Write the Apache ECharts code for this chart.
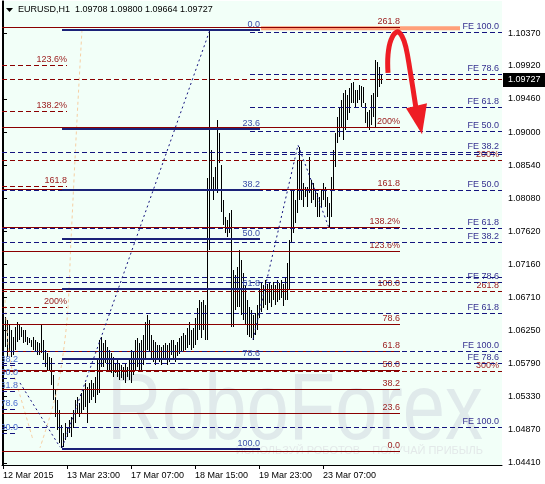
<!DOCTYPE html>
<html>
<head>
<meta charset="utf-8">
<script src="https://cdn.jsdelivr.net/npm/echarts@6/dist/echarts.min.js"></script>
<style>
  html, body { margin: 0; padding: 0; background: #fff; }
  #chart { width: 545px; height: 484px; }
</style>
</head>
<body>
<div id="chart"></div>
<script>
// EURUSD H1, one bar per hour, bar index on x
var timeLabels = ['12 Mar 2015', '13 Mar 23:00', '17 Mar 07:00', '18 Mar 15:00', '19 Mar 23:00', '23 Mar 07:00'];
var timeLabelBars = [0, 32, 64, 96, 128, 160];
var priceTicks = [1.10370, 1.09920, 1.09460, 1.09000, 1.08540, 1.08080, 1.07620,
  1.07160, 1.06710, 1.06250, 1.05790, 1.05330, 1.04870, 1.04410];
var lastBar = [1.09708, 1.09800, 1.09664, 1.09727]; // O H L C

var highs = [
  1.0644, 1.0644, 1.0639, 1.0632, 1.0626, 1.0616, 1.0630, 1.0637, 1.0634, 1.0630,
  1.0626, 1.0626, 1.0616, 1.0614, 1.0612, 1.0616, 1.0612, 1.0609, 1.0607, 1.0632,
  1.0612, 1.0598, 1.0594, 1.0588, 1.0587, 1.0563, 1.0542, 1.0528, 1.0514, 1.0494,
  1.0483, 1.0496, 1.0491, 1.0501, 1.0505, 1.0514, 1.0528, 1.0533, 1.0524, 1.0538,
  1.0542, 1.0552, 1.0546, 1.0552, 1.0556, 1.0552, 1.0560, 1.0584, 1.0612, 1.0616,
  1.0607, 1.0612, 1.0602, 1.0598, 1.0594, 1.0588, 1.0580, 1.0584, 1.0580, 1.0577,
  1.0574, 1.0580, 1.0574, 1.0584, 1.0598, 1.0595, 1.0612, 1.0614, 1.0607, 1.0612,
  1.0619, 1.0637, 1.0646, 1.0639, 1.0619, 1.0612, 1.0609, 1.0605, 1.0605, 1.0602,
  1.0605, 1.0607, 1.0605, 1.0607, 1.0612, 1.0612, 1.0605, 1.0609, 1.0614, 1.0617,
  1.0621, 1.0619, 1.0628, 1.0637, 1.0626, 1.0628, 1.0642, 1.0656, 1.0667, 1.0664,
  1.0667, 1.0660, 1.0836, 1.1042, 1.0875, 1.0838, 1.0852, 1.0917, 1.0899, 1.0855,
  1.0806, 1.0782, 1.0778, 1.0788, 1.0792, 1.0709, 1.0702, 1.0713, 1.0736, 1.0723,
  1.0705, 1.0688, 1.0667, 1.0657, 1.0653, 1.0646, 1.0649, 1.0660, 1.0681, 1.0692,
  1.0688, 1.0695, 1.0689, 1.0691, 1.0688, 1.0692, 1.0688, 1.0695, 1.0691, 1.0695,
  1.0689, 1.0698, 1.0718, 1.0750, 1.0820, 1.0820, 1.0806, 1.0861, 1.0879, 1.0861,
  1.0829, 1.0824, 1.0824, 1.0865, 1.0834, 1.0829, 1.0820, 1.0816, 1.0810, 1.0820,
  1.0829, 1.0824, 1.0810, 1.0802, 1.0838, 1.0875, 1.0899, 1.0921, 1.0935, 1.0945,
  1.0954, 1.0958, 1.0951, 1.0961, 1.0968, 1.0969, 1.0958, 1.0958, 1.0965, 1.0964,
  1.0962, 1.0940, 1.0928, 1.0931, 1.0951, 1.0954, 1.1000, 1.0997, 1.0990, 1.0980
];
var lows = [
  1.0595, 1.0602, 1.0588, 1.0595, 1.0588, 1.0591, 1.0598, 1.0609, 1.0612, 1.0616,
  1.0607, 1.0609, 1.0605, 1.0607, 1.0602, 1.0598, 1.0595, 1.0591, 1.0591, 1.0594,
  1.0584, 1.0574, 1.0570, 1.0570, 1.0549, 1.0528, 1.0505, 1.0487, 1.0469, 1.0462,
  1.0463, 1.0473, 1.0477, 1.0483, 1.0477, 1.0490, 1.0496, 1.0510, 1.0505, 1.0510,
  1.0514, 1.0519, 1.0496, 1.0524, 1.0528, 1.0533, 1.0524, 1.0535, 1.0538, 1.0574,
  1.0574, 1.0580, 1.0570, 1.0567, 1.0566, 1.0560, 1.0566, 1.0560, 1.0556, 1.0559,
  1.0556, 1.0552, 1.0560, 1.0556, 1.0552, 1.0563, 1.0570, 1.0574, 1.0570, 1.0567,
  1.0577, 1.0587, 1.0598, 1.0595, 1.0584, 1.0581, 1.0577, 1.0584, 1.0581, 1.0577,
  1.0584, 1.0587, 1.0577, 1.0581, 1.0591, 1.0587, 1.0581, 1.0589, 1.0592, 1.0595,
  1.0595, 1.0598, 1.0601, 1.0605, 1.0598, 1.0601, 1.0605, 1.0612, 1.0626, 1.0614,
  1.0626, 1.0612, 1.0612, 1.0736, 1.0820, 1.0806, 1.0820, 1.0816, 1.0857, 1.0789,
  1.0771, 1.0760, 1.0754, 1.0760, 1.0630, 1.0630, 1.0653, 1.0657, 1.0657, 1.0646,
  1.0639, 1.0632, 1.0619, 1.0616, 1.0614, 1.0612, 1.0619, 1.0626, 1.0642, 1.0650,
  1.0656, 1.0660, 1.0653, 1.0663, 1.0657, 1.0667, 1.0660, 1.0664, 1.0667, 1.0670,
  1.0659, 1.0667, 1.0667, 1.0681, 1.0746, 1.0760, 1.0774, 1.0788, 1.0806, 1.0806,
  1.0796, 1.0810, 1.0796, 1.0816, 1.0802, 1.0806, 1.0796, 1.0782, 1.0782, 1.0796,
  1.0806, 1.0796, 1.0782, 1.0767, 1.0782, 1.0820, 1.0852, 1.0885, 1.0893, 1.0907,
  1.0889, 1.0903, 1.0917, 1.0926, 1.0940, 1.0940, 1.0935, 1.0940, 1.0945, 1.0935,
  1.0940, 1.0913, 1.0906, 1.0903, 1.0910, 1.0921, 1.0907, 1.0949, 1.0962, 1.0966
];

// fibonacci tools: anchor prices (0% and 100%), levels and their captions
var retrAAnchors = [1.1042, 1.0461];
var retrALevels = [0, 23.6, 38.2, 50, 61.8, 78.6, 100];
var retrALabels = ['0.0', '23.6', '38.2', '50.0', '61.8', '78.6', '100.0'];

var retrBAnchors = [1.0457, 1.0682];
var retrBLevels = [0, 23.6, 38.2, 50, 61.8, 78.6, 100, 123.6, 138.2, 161.8, 200, 261.8];
var retrBLabels = ['0.0', '23.6', '38.2', '50.0', '61.8', '78.6', '100.0', '123.6%', '138.2%', '161.8', '200%', '261.8'];

var retrCAnchors = [1.1536, 1.1097];
var retrCLevels = [123.6, 138.2, 161.8, 200];
var retrCLabels = ['123.6%', '138.2%', '161.8', '200%'];

var extDAnchors = [1.1447, 1.1154];
var extDLevels = [161.8, 200, 261.8, 300];
var extDLabels = ['', '200%', '261.8', '300%'];

var fe1Anchors = [1.0765, 1.1039];
var fe1Levels = [38.2, 50, 61.8, 78.6, 100];
var fe1Labels = ['', 'FE 50.0', 'FE 61.8', 'FE 78.6', 'FE 100.0'];

var fe2Anchors = [1.1043, 1.0596];
var fe2Levels = [38.2, 50, 61.8, 78.6, 100, 138.2];
var fe2Labels = ['FE 38.2', 'FE 50.0', 'FE 61.8', 'FE 78.6', 'FE 100.0', 'FE 138.2'];

var fe3Anchors = [1.0906, 1.0491];
var fe3Levels = [38.2, 50, 61.8, 78.6, 100];
var fe3Labels = ['FE 38.2', '', 'FE 61.8', 'FE 78.6', 'FE 100.0'];

var retrEAnchors = [1.0635, 1.0483];
var retrELevels = [38.2, 50, 61.8, 78.6, 100];
var retrELabels = ['38.2', '50.0', '61.8', '78.6', '100.0'];

// trend lines and drawings, [bar, price]
var trendA = [[29.5, 1.0462], [103.5, 1.1042]];
var trendFE = [[125, 1.0612], [147.5, 1.0882], [163, 1.0767]];
var trendE = [[8.5, 1.0552], [28.5, 1.0463]];
var arcA = [[39.5, 1.1042], [37, 1.0917], [34, 1.0750], [32, 1.0639], [27, 1.0542], [18.5, 1.0462]];
var arcB = [[1, 1.0667], [3.5, 1.0584], [8.5, 1.0535], [15, 1.0473]];
var band = [[129, 1.1044], [228.5, 1.1044]];
var arrowPath = [[192.5, 1.0982], [192.5, 1.1007], [194, 1.1028], [197, 1.1039], [199.5, 1.1033],
  [201.5, 1.1017], [203.5, 1.0986], [205.5, 1.0951], [206.5, 1.0933]];
var arrowHead = [[201.5, 1.0933], [212, 1.0940], [209.5, 1.0897]];

var FONT = '9px "Liberation Sans", Arial, sans-serif';
var NAVY = '#14147f';
var DRED = '#8b0000';

var chart = echarts.init(document.getElementById('chart'));

function levelSeries(anchors, ratios, labels, x1, x2, st) {
  var data = ratios.map(function (r) {
    return [x1, x2, anchors[0] + (anchors[1] - anchors[0]) * r / 100];
  });
  return {
    type: 'custom',
    silent: true,
    clip: true,
    z: st.z || 5,
    encode: { x: [0, 1], y: 2 },
    data: data,
    renderItem: function (params, api) {
      var a = api.coord([api.value(0), api.value(2)]);
      var b = api.coord([api.value(1), api.value(2)]);
      var y = st.width === 1 ? Math.round(a[1]) + 0.5 : Math.round(a[1]);
      var kids = [{
        type: 'line',
        shape: { x1: a[0], y1: y, x2: b[0], y2: y },
        style: { stroke: st.color, lineWidth: st.width, lineDash: st.dash || null }
      }];
      var txt = labels[params.dataIndex];
      if (txt) {
        kids.push({
          type: 'text',
          style: {
            text: txt, x: b[0] + (st.dx || 0), y: y - 1,
            align: 'right', verticalAlign: 'bottom', fill: st.text, font: FONT
          }
        });
      }
      return { type: 'group', children: kids };
    }
  };
}

function pathSeries(data, color, width, dash, z, smooth) {
  return {
    type: 'line', data: data, silent: true, symbol: 'none', z: z,
    smooth: smooth || false,
    lineStyle: { color: color, width: width, type: dash }
  };
}

var barData = highs.map(function (h, i) { return [i, lows[i], h]; });

var option = {
  animation: false,
  backgroundColor: '#ffffff',
  grid: {
    left: 2, right: 43, top: 1, bottom: 19,
    show: true, backgroundColor: '#f2fff8', borderWidth: 0,
    outerBoundsMode: 'none'
  },
  xAxis: {
    type: 'value', min: -0.5, max: 249.5,
    axisLine: { show: true, lineStyle: { color: '#000', width: 1 } },
    axisTick: { show: true, customValues: timeLabelBars, length: 4, lineStyle: { color: '#000' } },
    axisLabel: {
      customValues: timeLabelBars,
      formatter: function (v) { return timeLabels[timeLabelBars.indexOf(v)]; },
      align: 'left', margin: 6, color: '#000', fontSize: 9,
      fontFamily: '"Liberation Sans", Arial, sans-serif'
    },
    splitLine: { show: false }
  },
  yAxis: [{
    type: 'value', position: 'right', min: 1.04382, max: 1.10818,
    axisLine: { show: true, lineStyle: { color: '#000', width: 1 } },
    axisTick: { show: true, customValues: priceTicks, length: 4, lineStyle: { color: '#000' } },
    axisLabel: {
      customValues: priceTicks,
      formatter: function (v) { return v.toFixed(5); },
      margin: 6, color: '#000', fontSize: 9,
      fontFamily: '"Liberation Sans", Arial, sans-serif'
    },
    splitLine: { show: false }
  }, {
    type: 'value', position: 'left', min: 1.04382, max: 1.10818,
    axisLine: { show: true, lineStyle: { color: '#000', width: 1 } },
    axisTick: { show: false }, axisLabel: { show: false }, splitLine: { show: false }
  }],
  graphic: [
    { type: 'polygon', shape: { points: [[6, 8], [13, 8], [9.5, 12]] }, style: { fill: '#000' }, z: 20 },
    { type: 'text', left: 18, top: 5, z: 20,
      style: { text: 'EURUSD,H1  1.09708 1.09800 1.09664 1.09727', font: FONT, fill: '#000' } },
    { type: 'text', x: 483, y: 460, scaleY: 1.25, z: 1,
      style: { text: 'RoboForex', font: '76px "Liberation Sans", Arial, sans-serif',
        fill: '#e0eaeb', align: 'right', verticalAlign: 'bottom' } },
    { type: 'text', x: 483, y: 456, z: 1,
      style: { text: 'ИСПОЛЬЗУЙ РОБОТОВ – ПОЛУЧАЙ ПРИБЫЛЬ', font: '11px "Liberation Sans", Arial, sans-serif',
        fill: '#e3e9e9', align: 'right', verticalAlign: 'bottom' } }
  ],
  series: [
    // price bars
    {
      type: 'custom', silent: true, z: 3,
      encode: { x: 0, y: [1, 2] },
      data: barData,
      renderItem: function (params, api) {
        var lo = api.coord([api.value(0), api.value(1)]);
        var hi = api.coord([api.value(0), api.value(2)]);
        var x = Math.round(lo[0]) + 0.5;
        return {
          type: 'line',
          shape: { x1: x, y1: Math.round(lo[1]), x2: x, y2: Math.round(hi[1]) },
          style: { stroke: '#000', lineWidth: 1 }
        };
      }
    },
    pathSeries(arcA, '#f7cfa3', 1, [3, 3], 4, 0.3),
    pathSeries(arcB, '#f7cfa3', 1, [3, 3], 4, 0.3),
    pathSeries(band, '#ffa07a', 4, 'solid', 4),
    levelSeries(retrBAnchors, retrBLevels, retrBLabels, -0.5, 198.5, { color: DRED, width: 1, text: '#9a1a1a', z: 6 }),
    levelSeries(retrCAnchors, retrCLevels, retrCLabels, -0.5, 32, { color: DRED, width: 1, dash: [5, 3], text: '#9a1a1a', z: 6 }),
    levelSeries(extDAnchors, extDLevels, extDLabels, -0.5, 249.5, { color: DRED, width: 1, dash: [5, 3], text: '#9a1a1a', dx: -3, z: 6 }),
    levelSeries(fe1Anchors, fe1Levels, fe1Labels, 123.5, 249.5, { color: NAVY, width: 1, dash: [5, 3], text: '#34308f', dx: -3, z: 7 }),
    levelSeries(fe2Anchors, fe2Levels, fe2Labels, -0.5, 249.5, { color: NAVY, width: 1, dash: [5, 3], text: '#34308f', dx: -3, z: 7 }),
    levelSeries(fe3Anchors, fe3Levels, fe3Labels, -0.5, 249.5, { color: NAVY, width: 1, dash: [5, 3], text: '#34308f', dx: -3, z: 7 }),
    levelSeries(retrEAnchors, retrELevels, retrELabels, -0.5, 7.5, { color: NAVY, width: 1, dash: [5, 3], text: '#4c6fcf', z: 7 }),
    levelSeries(retrAAnchors, retrALevels, retrALabels, 29.5, 128.5, { color: '#1c2278', width: 2, text: '#3a4ea8', z: 8 }),
    pathSeries(trendA, NAVY, 1, [2, 3], 8),
    pathSeries(trendFE, NAVY, 1, [2, 3], 8),
    pathSeries(trendE, NAVY, 1, [2, 3], 8),
    // forecast arrow
    {
      type: 'custom', silent: true, clip: false, z: 20,
      encode: { x: 0, y: 1 },
      data: [arrowHead[2]],
      renderItem: function (params, api) {
        var pts = arrowPath.map(function (p) { return api.coord(p); });
        var head = arrowHead.map(function (p) { return api.coord(p); });
        return {
          type: 'group',
          children: [
            { type: 'polyline', shape: { points: pts, smooth: 0.4 },
              style: { stroke: '#ee1d24', lineWidth: 5, fill: null, lineCap: 'butt' } },
            { type: 'polygon', shape: { points: head }, style: { fill: '#ee1d24' } }
          ]
        };
      }
    },
    // last price box on the price scale
    {
      type: 'custom', silent: true, clip: false, z: 20,
      encode: { x: 0, y: 1 },
      data: [[249.5, lastBar[3]]],
      renderItem: function (params, api) {
        var p = api.coord([api.value(0), api.value(1)]);
        var y = Math.round(p[1]);
        return {
          type: 'group',
          children: [
            { type: 'rect', shape: { x: p[0] + 1, y: y - 7, width: 42, height: 14 }, style: { fill: '#000' } },
            { type: 'text', style: { text: lastBar[3].toFixed(5), x: p[0] + 6, y: y,
              verticalAlign: 'middle', fill: '#fff', font: FONT } }
          ]
        };
      }
    }
  ]
};

chart.setOption(option);
</script>
</body>
</html>
